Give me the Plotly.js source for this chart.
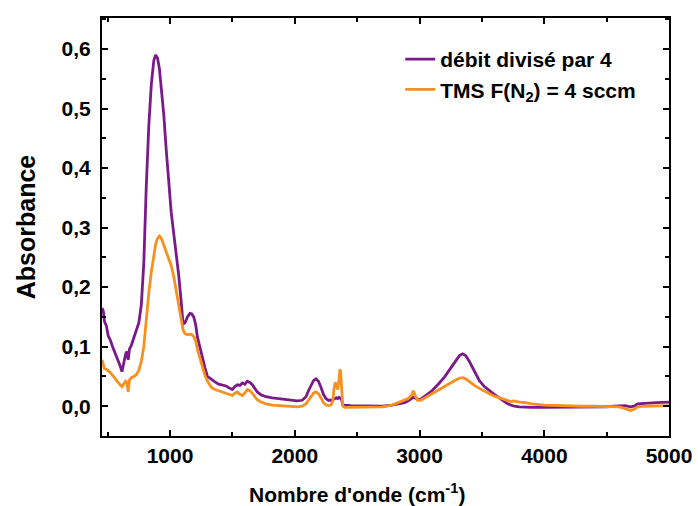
<!DOCTYPE html>
<html>
<head>
<meta charset="utf-8">
<script src="https://cdn.plot.ly/plotly-3.0.1.min.js"></script>
<style>html,body{margin:0;padding:0;background:#fff}#chart{width:698px;height:506px}</style>
</head>
<body>
<div id="chart"></div>
<script>
const wavenumber = [455,465,475,490,505,520,540,560,580,600,615,630,645,655,665,675,690,710,730,750,770,790,810,830,850,870,885,900,915,930,950,970,990,1010,1030,1050,1070,1090,1105,1120,1140,1160,1175,1190,1205,1220,1240,1260,1280,1300,1330,1360,1390,1420,1450,1480,1500,1520,1540,1560,1580,1600,1620,1640,1660,1680,1700,1730,1770,1820,1870,1920,1970,2020,2060,2090,2110,2130,2150,2170,2190,2210,2230,2250,2270,2290,2305,2315,2325,2335,2345,2355,2362,2368,2375,2385,2400,2450,2500,2600,2700,2780,2840,2880,2910,2935,2950,2965,2985,3010,3050,3100,3150,3200,3250,3290,3320,3345,3370,3400,3440,3480,3520,3560,3600,3640,3670,3700,3730,3760,3800,3850,3900,4000,4100,4200,4300,4400,4500,4560,4600,4650,4690,4720,4750,4800,4900,5000];

const debitDivise = [0.165,0.160,0.142,0.135,0.118,0.112,0.100,0.090,0.080,0.068,0.058,0.075,0.088,0.092,0.078,0.096,0.102,0.115,0.128,0.140,0.170,0.240,0.370,0.470,0.540,0.580,0.590,0.585,0.567,0.535,0.490,0.430,0.375,0.325,0.290,0.258,0.220,0.175,0.138,0.140,0.150,0.156,0.155,0.150,0.138,0.116,0.098,0.085,0.065,0.050,0.045,0.041,0.037,0.035,0.034,0.030,0.028,0.033,0.036,0.035,0.039,0.037,0.042,0.040,0.036,0.030,0.024,0.019,0.016,0.014,0.013,0.011,0.010,0.009,0.010,0.016,0.026,0.036,0.043,0.046,0.042,0.032,0.020,0.013,0.010,0.010,0.011,0.012,0.013,0.014,0.013,0.015,0.014,0.013,0.011,0.003,0.002,0.001,0.001,0.000,0.000,0.002,0.004,0.006,0.009,0.012,0.015,0.014,0.011,0.012,0.018,0.026,0.037,0.049,0.064,0.077,0.085,0.088,0.085,0.075,0.058,0.043,0.033,0.026,0.020,0.014,0.009,0.005,0.002,0.000,-0.001,-0.002,-0.002,-0.002,-0.002,-0.002,-0.001,-0.001,-0.001,0.000,0.000,0.001,-0.001,0.000,0.004,0.005,0.006,0.007];

const tmsN2 = [0.078,0.070,0.063,0.062,0.060,0.057,0.052,0.046,0.040,0.036,0.033,0.038,0.042,0.040,0.024,0.044,0.048,0.050,0.053,0.060,0.075,0.100,0.150,0.190,0.225,0.255,0.272,0.282,0.286,0.282,0.270,0.258,0.248,0.236,0.218,0.195,0.170,0.145,0.128,0.122,0.120,0.121,0.120,0.117,0.110,0.095,0.080,0.068,0.052,0.042,0.032,0.028,0.026,0.024,0.022,0.019,0.018,0.022,0.024,0.020,0.018,0.022,0.028,0.026,0.022,0.016,0.011,0.007,0.004,0.002,0.001,0.000,-0.001,-0.001,0.000,0.004,0.010,0.017,0.022,0.024,0.021,0.014,0.006,0.002,0.001,0.002,0.008,0.030,0.040,0.034,0.028,0.045,0.062,0.058,0.030,0.000,-0.002,-0.002,-0.002,-0.002,-0.001,0.002,0.007,0.010,0.013,0.018,0.026,0.018,0.010,0.010,0.015,0.021,0.027,0.034,0.040,0.044,0.047,0.048,0.046,0.041,0.035,0.030,0.025,0.021,0.017,0.014,0.012,0.009,0.008,0.009,0.007,0.006,0.004,0.002,0.001,0.000,0.000,0.000,0.000,-0.001,-0.001,-0.004,-0.007,-0.005,-0.001,0.000,0.001,0.001];

const seriesNames = ['débit divisé par 4', 'TMS F(N<sub>2</sub>) = 4 sccm'];
const xTitle = "Nombre d'onde (cm<sup>-1</sup>)";
const yTitle = 'Absorbance';

const font = 'Liberation Sans, Arial, sans-serif';
const traces = [
  {x: wavenumber, y: debitDivise, name: seriesNames[0], type: 'scatter', mode: 'lines',
   line: {color: '#7a1a8a', width: 2.8}},
  {x: wavenumber, y: tmsN2, name: seriesNames[1], type: 'scatter', mode: 'lines',
   line: {color: '#f7901e', width: 2.8}}
];
const axisCommon = {
  showline: true, linewidth: 2, linecolor: '#000', mirror: 'ticks',
  ticks: 'inside', ticklen: 6, tickwidth: 2, tickcolor: '#000',
  showgrid: false, zeroline: false,
  tickfont: {family: font, size: 21, color: '#000', weight: 'bold'}
};
const layout = {
  width: 698, height: 506,
  margin: {l: 102, r: 29, t: 18, b: 70},
  paper_bgcolor: '#fff', plot_bgcolor: '#fff',
  separators: ',.',
  showlegend: true,
  legend: {x: 0.526, y: 0.95, xanchor: 'left', yanchor: 'top',
    bgcolor: 'rgba(0,0,0,0)', borderwidth: 0, tracegroupgap: 0,
    font: {family: font, size: 21, color: '#000', weight: 'bold'}},
  xaxis: Object.assign({}, axisCommon, {
    range: [455, 5000], dtick: 1000, tick0: 0, tickformat: 'd',
    minor: {dtick: 500, ticks: 'inside', ticklen: 4, tickwidth: 2, tickcolor: '#000'}
  }),
  yaxis: Object.assign({}, axisCommon, {
    range: [-0.05, 0.652], dtick: 0.1, tick0: 0, tickformat: '.1f',
    ticklabelstandoff: 5,
    minor: {dtick: 0.05, ticks: 'inside', ticklen: 4, tickwidth: 2, tickcolor: '#000'},
    title: {text: yTitle, standoff: 19, font: {family: font, size: 25, color: '#000', weight: 'bold'}}
  }),
  annotations: [
    {text: xTitle, xref: 'paper', yref: 'paper', x: 0.4506, y: -0.136,
     xanchor: 'center', yanchor: 'middle', showarrow: false,
     font: {family: font, size: 21, color: '#000', weight: 'bold'}}
  ]
};
Plotly.newPlot('chart', traces, layout, {displayModeBar: false, staticPlot: true});
</script>
</body>
</html>
